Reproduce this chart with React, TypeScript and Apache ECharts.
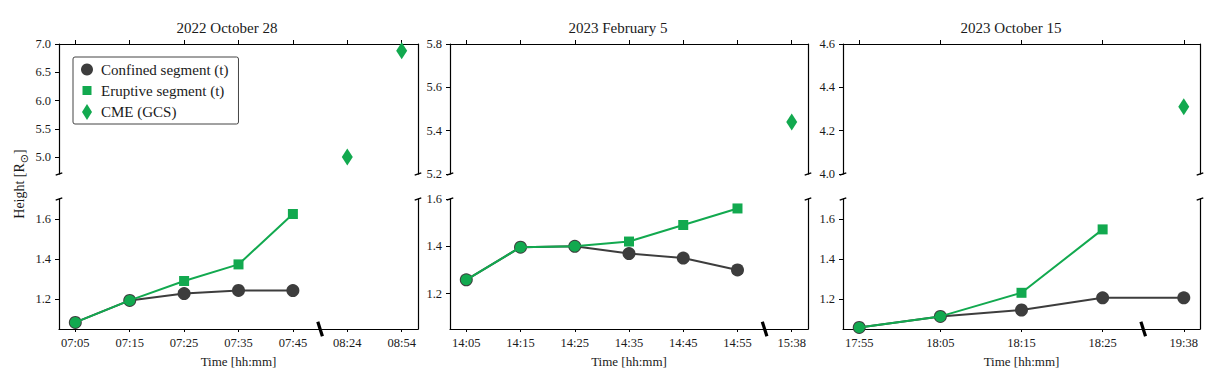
import React, { useEffect, useRef } from "react";
import * as echarts from "echarts";

// ---------- data ----------
const panelTitles = ["2022 October 28", "2023 February 5", "2023 October 15"];

const times1 = ["07:05", "07:15", "07:25", "07:35", "07:45", "08:24", "08:54"];
const confined1 = [1.083, 1.193, 1.227, 1.243, 1.242];
const eruptive1 = [1.083, 1.193, 1.29, 1.373, 1.625];
const cme1 = [null, null, null, null, null, 5.0, 6.88];
const breakAfter1 = 4;

const times2 = ["14:05", "14:15", "14:25", "14:35", "14:45", "14:55", "15:38"];
const confined2 = [1.258, 1.396, 1.4, 1.369, 1.35, 1.3];
const eruptive2 = [1.258, 1.396, 1.4, 1.42, 1.49, 1.56];
const cme2 = [null, null, null, null, null, null, 5.44];
const breakAfter2 = 5;

const times3 = ["17:55", "18:05", "18:15", "18:25", "19:38"];
const confined3 = [1.058, 1.113, 1.145, 1.206, 1.206];
const eruptive3 = [1.058, 1.113, 1.231, 1.548];
const cme3 = [null, null, null, null, 4.31];
const breakAfter3 = 3;

const upperRanges = [[4.7, 7.0], [5.2, 5.8], [4.0, 4.6]];
const upperTicks = [[5.0, 5.5, 6.0, 6.5, 7.0], [5.2, 5.4, 5.6, 5.8], [4.0, 4.2, 4.4, 4.6]];
const lowerRanges = [[1.05, 1.7], [1.05, 1.6], [1.05, 1.7]];
const lowerTicks = [[1.2, 1.4, 1.6], [1.2, 1.4, 1.6], [1.2, 1.4, 1.6]];

const seriesNames = ["Confined segment (t)", "Eruptive segment (t)", "CME (GCS)"];
const yLabel = "Height [R";
const xLabel = "Time [hh:mm]";

// ---------- layout / style ----------
const panels = [
  { times: times1, confined: confined1, eruptive: eruptive1, cme: cme1, breakAfter: breakAfter1 },
  { times: times2, confined: confined2, eruptive: eruptive2, cme: cme2, breakAfter: breakAfter2 },
  { times: times3, confined: confined3, eruptive: eruptive3, cme: cme3, breakAfter: breakAfter3 },
];
const panelLeft = [59, 450, 843];
const panelWidth = [359, 358, 357];
const titleCenter = [227, 618, 1011];
const upperTop = 44;
const lowerTop = 199;
const gridHeight = 130;

const GREEN = "#12a94f";
const GRAY = "#3d3d3d";
const FONT = "Liberation Serif";
const TXT = "#1a1a1a";

function buildOption() {
  const grid: any[] = [];
  const xAxis: any[] = [];
  const yAxis: any[] = [];
  const series: any[] = [];
  const title: any[] = [];

  panels.forEach((p, i) => {
    const n = p.times.length;
    const margin = (n - 1) * 0.05;
    const xmin = -margin;
    const xmax = n - 1 + margin;
    const idx = p.times.map((_, k) => k);

    title.push({
      text: panelTitles[i],
      left: titleCenter[i],
      top: 20,
      padding: 0,
      textAlign: "center",
      textStyle: { fontFamily: FONT, fontSize: 15, fontWeight: "normal", color: TXT },
    });

    [0, 1].forEach((part) => {
      const g = grid.length;
      const isUpper = part === 0;
      grid.push({
        left: panelLeft[i],
        width: panelWidth[i],
        top: isUpper ? upperTop : lowerTop,
        height: gridHeight,
        containLabel: false,
        outerBoundsMode: "none",
      });
      xAxis.push({
        type: "value",
        gridIndex: g,
        min: xmin,
        max: xmax,
        position: isUpper ? "top" : "bottom",
        axisLine: { show: true, onZero: false, lineStyle: { color: "#000", width: 1.2 } },
        axisTick: {
          show: true,
          customValues: idx,
          inside: false,
          length: isUpper ? 4 : 3,
          lineStyle: { color: "#000", width: 1 },
        },
        axisLabel: isUpper
          ? { show: false }
          : {
              show: true,
              customValues: idx,
              formatter: (v: number) => p.times[Math.round(v)],
              fontFamily: FONT,
              fontSize: 12.5,
              color: TXT,
              margin: 7,
            },
        splitLine: { show: false },
        name: isUpper ? "" : xLabel,
        nameLocation: "middle",
        nameGap: 26,
        nameTextStyle: { fontFamily: FONT, fontSize: 13, color: TXT },
      });
      const range = isUpper ? upperRanges[i] : lowerRanges[i];
      const ticks = isUpper ? upperTicks[i] : lowerTicks[i];
      const yLeft = yAxis.length;
      yAxis.push({
        type: "value",
        gridIndex: g,
        min: range[0],
        max: range[1],
        position: "left",
        axisLine: { show: true, onZero: false, lineStyle: { color: "#000", width: 1.2 } },
        axisTick: { show: true, customValues: ticks, inside: false, length: 4, lineStyle: { color: "#000" } },
        axisLabel: {
          show: true,
          customValues: ticks,
          formatter: (v: number) => v.toFixed(1),
          fontFamily: FONT,
          fontSize: 12.5,
          color: TXT,
          margin: 8,
        },
        splitLine: { show: false },
      });
      yAxis.push({
        type: "value",
        gridIndex: g,
        min: range[0],
        max: range[1],
        position: "right",
        axisLine: { show: true, onZero: false, lineStyle: { color: "#000", width: 1.2 } },
        axisTick: { show: false },
        axisLabel: { show: false },
        splitLine: { show: false },
      });

      // spine break marks
      const yEnd = isUpper ? range[0] : range[1];
      series.push({
        type: "scatter",
        name: "spine-break",
        xAxisIndex: g,
        yAxisIndex: yLeft,
        silent: true,
        clip: false,
        symbol: "rect",
        symbolSize: [7, 1.4],
        symbolRotate: 20,
        itemStyle: { color: "#000", opacity: 1 },
        z: 5,
        data: [[xmin, yEnd], [xmax, yEnd]],
      });

      if (isUpper) {
        series.push({
          type: "scatter",
          name: seriesNames[2],
          xAxisIndex: g,
          yAxisIndex: yLeft,
          symbol: "diamond",
          symbolSize: [11, 17],
          itemStyle: { color: GREEN, opacity: 1 },
          z: 4,
          data: p.cme.map((v, k) => (v == null ? null : [k, v])).filter((d) => d != null),
        });
      } else {
        series.push({
          type: "line",
          name: seriesNames[0],
          xAxisIndex: g,
          yAxisIndex: yLeft,
          symbol: "circle",
          symbolSize: 13,
          showSymbol: true,
          lineStyle: { color: GRAY, width: 2 },
          itemStyle: { color: GRAY },
          z: 2,
          data: p.confined.map((v, k) => [k, v]),
        });
        series.push({
          type: "line",
          name: seriesNames[1],
          xAxisIndex: g,
          yAxisIndex: yLeft,
          symbol: "rect",
          symbolSize: 10,
          showSymbol: true,
          lineStyle: { color: GREEN, width: 2 },
          itemStyle: { color: GREEN },
          z: 3,
          data: p.eruptive.map((v, k) =>
            p.confined[k] === v
              ? { value: [k, v], symbol: "circle", symbolSize: 11 }
              : { value: [k, v] }
          ),
        });
        // x-axis break marker
        series.push({
          type: "scatter",
          name: "axis-break",
          xAxisIndex: g,
          yAxisIndex: yLeft,
          silent: true,
          clip: false,
          symbol: "rect",
          symbolSize: [3.2, 15],
          symbolRotate: 18,
          itemStyle: { color: "#000", opacity: 1 },
          z: 6,
          data: [[p.breakAfter + 0.5, range[0]]],
        });
      }
    });
  });

  return {
    animation: false,
    backgroundColor: "#fff",
    title,
    grid,
    xAxis,
    yAxis,
    series,
    legend: {
      left: 73,
      top: 57,
      orient: "vertical",
      itemWidth: 12,
      itemHeight: 16,
      itemGap: 6,
      padding: [5, 10, 4, 8],
      borderColor: "#444",
      borderWidth: 1,
      borderRadius: 2,
      backgroundColor: "#fff",
      selectedMode: false,
      textStyle: { fontFamily: FONT, fontSize: 15, color: TXT, padding: [0, 0, 0, 3] },
      data: [
        { name: seriesNames[0], icon: "circle" },
        { name: seriesNames[1], icon: "path://M0,0M12,12M1.5,1.5L10.5,1.5L10.5,10.5L1.5,10.5Z" },
        { name: seriesNames[2], icon: "path://M5,0L10,8L5,16L0,8Z" },
      ],
    },
    graphic: [
      {
        type: "text",
        x: 19,
        y: 184,
        rotation: Math.PI / 2,
        style: {
          text: yLabel + "{sub|⊙}]",
          fontFamily: FONT,
          fontSize: 14,
          fill: TXT,
          align: "center",
          verticalAlign: "middle",
          rich: {
            sub: { fontSize: 11, fontFamily: "DejaVu Sans", fill: TXT, verticalAlign: "bottom", lineHeight: 22 },
          },
        },
      },
    ],
  };
}

export default function App() {
  const ref = useRef<HTMLDivElement>(null);
  useEffect(() => {
    document.body.style.margin = "0";
    if (!ref.current) return;
    const chart = echarts.init(ref.current, null, { renderer: "svg" });
    chart.setOption(buildOption() as any);
    return () => chart.dispose();
  }, []);
  return <div ref={ref} style={{ width: 1217, height: 375, background: "#fff" }} />;
}
